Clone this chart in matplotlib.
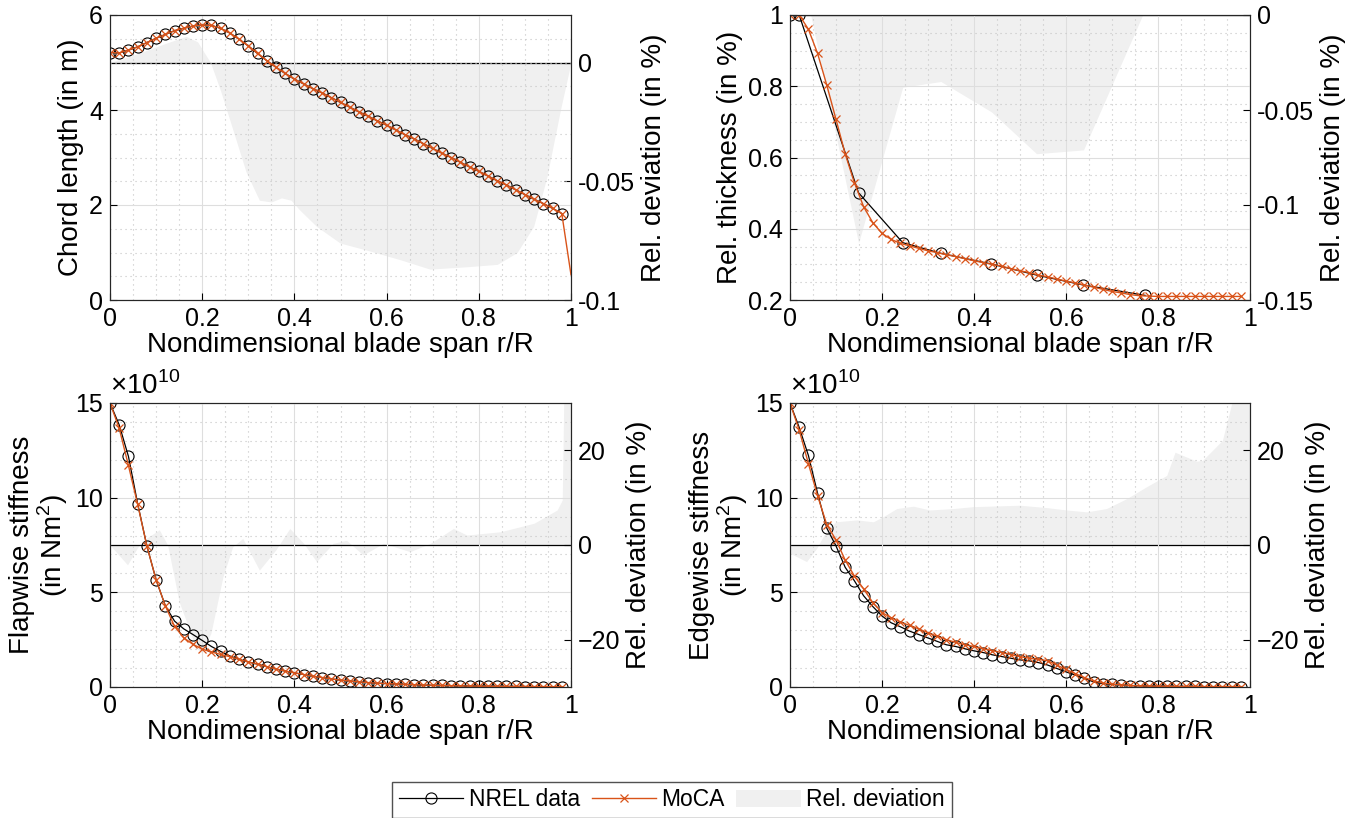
import numpy as np
import matplotlib
matplotlib.use('Agg')
import matplotlib.pyplot as plt
from matplotlib.lines import Line2D
from matplotlib.patches import Patch

plt.rcParams['font.family'] = ['Liberation Sans', 'DejaVu Sans']
plt.rcParams['font.size'] = 18
plt.rcParams['mathtext.fontset'] = 'custom'
plt.rcParams['mathtext.rm'] = 'Liberation Sans'

# --- Data ----------------------------------------------------
span = [0.00, 0.02, 0.04, 0.06, 0.08, 0.10, 0.12, 0.14, 0.16, 0.18,
        0.20, 0.22, 0.24, 0.26, 0.28, 0.30, 0.32, 0.34, 0.36, 0.38,
        0.40, 0.42, 0.44, 0.46, 0.48, 0.50, 0.52, 0.54, 0.56, 0.58,
        0.60, 0.62, 0.64, 0.66, 0.68, 0.70, 0.72, 0.74, 0.76, 0.78,
        0.80, 0.82, 0.84, 0.86, 0.88, 0.90, 0.92, 0.94, 0.96, 0.98]

# chord length (m)
chord_nrel = [5.21, 5.20, 5.26, 5.33, 5.42, 5.51, 5.59, 5.67, 5.72, 5.77,
              5.79, 5.78, 5.72, 5.62, 5.49, 5.35, 5.19, 5.04, 4.90, 4.77,
              4.65, 4.55, 4.45, 4.36, 4.26, 4.16, 4.06, 3.96, 3.87, 3.77,
              3.68, 3.58, 3.48, 3.39, 3.29, 3.19, 3.09, 3.00, 2.90, 2.80,
              2.71, 2.61, 2.51, 2.42, 2.32, 2.22, 2.12, 2.03, 1.93, 1.82]
chord_moca_x = span + [1.0]
chord_moca = chord_nrel + [0.53]
chord_dev_x = [0, 0.05, 0.12, 0.165, 0.19, 0.205, 0.218, 0.24, 0.266, 0.295,
               0.324, 0.35, 0.372, 0.393, 0.411, 0.448, 0.499, 0.557, 0.629,
               0.694, 0.774, 0.84, 0.883, 0.919, 0.948, 0.977, 1.0]
chord_dev = [0, 0.003, 0.008, 0.011, 0.0087, 0.004, 0, -0.012, -0.028, -0.046,
             -0.058, -0.0587, -0.057, -0.058, -0.062, -0.069, -0.076, -0.079,
             -0.083, -0.087, -0.086, -0.085, -0.080, -0.069, -0.048, -0.02, 0]

# relative thickness
thick_nrel_x = [0.0, 0.02, 0.149, 0.245, 0.328, 0.438, 0.536, 0.638, 0.772]
thick_nrel = [1.0, 1.0, 0.501, 0.361, 0.331, 0.301, 0.270, 0.242, 0.213]
thick_moca = [1.0, 1.0, 0.96, 0.892, 0.803, 0.707, 0.610, 0.529, 0.462, 0.417,
              0.387, 0.370, 0.359, 0.352, 0.345, 0.338, 0.333, 0.327, 0.322, 0.316,
              0.310, 0.305, 0.300, 0.295, 0.288, 0.282, 0.277, 0.270, 0.265, 0.259,
              0.253, 0.248, 0.242, 0.236, 0.230, 0.224, 0.220, 0.215, 0.212, 0.211,
              0.21, 0.21, 0.21, 0.21, 0.21, 0.21, 0.21, 0.21, 0.21, 0.21]
thick_dev_x = [0.0, 0.045, 0.149, 0.245, 0.328, 0.438, 0.536, 0.638, 0.772, 1.0]
thick_dev = [0, 0, -0.12, -0.038, -0.035, -0.051, -0.073, -0.071, 0.003, 0.003]

# flapwise stiffness (1e10 Nm^2)
flap_nrel = [15.0, 13.84, 12.18, 9.68, 7.45, 5.66, 4.29, 3.48, 3.07, 2.77,
             2.46, 2.14, 1.88, 1.64, 1.46, 1.32, 1.21, 1.07, 0.95, 0.84,
             0.75, 0.66, 0.57, 0.50, 0.43, 0.36, 0.32, 0.27, 0.23, 0.20,
             0.18, 0.16, 0.14, 0.12, 0.10, 0.09, 0.08, 0.07, 0.06, 0.05,
             0.045, 0.04, 0.035, 0.03, 0.03, 0.025, 0.02, 0.02, 0.015, 0.01]
flap_moca = [15.0, 13.66, 11.7, 9.65, 7.45, 5.66, 4.29, 3.2, 2.6, 2.25,
             2.0, 1.85, 1.72, 1.6, 1.46, 1.32, 1.21, 1.07, 0.95, 0.84,
             0.75, 0.66, 0.57, 0.50, 0.43, 0.36, 0.32, 0.27, 0.23, 0.20,
             0.18, 0.16, 0.14, 0.12, 0.10, 0.09, 0.08, 0.07, 0.06, 0.05,
             0.045, 0.04, 0.035, 0.03, 0.03, 0.025, 0.02, 0.02, 0.015, 0.01]
flap_dev_x = [0, 0.038, 0.06, 0.08, 0.107, 0.125, 0.15, 0.187, 0.2, 0.219,
              0.245, 0.266, 0.288, 0.324, 0.36, 0.39, 0.42, 0.448, 0.484, 0.513,
              0.549, 0.593, 0.651, 0.695, 0.745, 0.774, 0.847, 0.92, 0.97, 0.981,
              0.985, 1.0]
flap_dev = [0, -4.2, -0.5, 1.5, 3.2, 0, -12, -21.8, -22.8, -18.6,
            -6.7, -0.4, 1.4, -5.3, -1, 3.5, 0.35, -3.5, 0.35, 1,
            -2.1, 0.35, -1.4, 0.35, 3.5, 2.1, 2.8, 4.6, 7.4, 9.5,
            35, 35]

# edgewise stiffness (1e10 Nm^2)
edge_nrel = [15.0, 13.71, 12.23, 10.23, 8.39, 7.45, 6.32, 5.61, 4.82, 4.25,
             3.75, 3.39, 3.18, 2.95, 2.77, 2.59, 2.41, 2.23, 2.14, 2.02,
             1.91, 1.82, 1.70, 1.61, 1.52, 1.43, 1.38, 1.29, 1.16, 0.98,
             0.80, 0.63, 0.45, 0.27, 0.18, 0.14, 0.11, 0.07, 0.06, 0.05,
             0.04, 0.04, 0.03, 0.03, 0.03, 0.02, 0.02, 0.02, 0.02, 0.02]
edge_moca = [15.0, 13.57, 11.8, 10.1, 8.57, 7.77, 6.7, 5.86, 5.18, 4.46,
             3.93, 3.66, 3.43, 3.25, 3.07, 2.86, 2.68, 2.50, 2.36, 2.23,
             2.14, 2.02, 1.92, 1.82, 1.71, 1.60, 1.52, 1.46, 1.39, 1.16,
             0.93, 0.71, 0.50, 0.32, 0.21, 0.15, 0.11, 0.08, 0.06, 0.05,
             0.04, 0.04, 0.03, 0.03, 0.03, 0.02, 0.02, 0.02, 0.02, 0.02]
edge_dev_x = [0, 0.036, 0.058, 0.08, 0.1, 0.145, 0.181, 0.203, 0.232, 0.268,
              0.304, 0.355, 0.398, 0.5, 0.558, 0.601, 0.645, 0.688, 0.732, 0.775,
              0.819, 0.837, 0.884, 0.897, 0.94, 0.96, 0.98, 1.0]
edge_dev = [-1.75, -3.5, -0.7, 3.2, 4.9, 5.3, 4.9, 6, 7.7, 8.2,
            7.4, 7.7, 8.1, 8.4, 7.9, 7.4, 7.0, 7.7, 9.8, 12.3,
            14.7, 19.6, 17.7, 17.9, 22.1, 29.8, 40, 40]

# --- Style ---------------------------------------------------
ORANGE = "#D95319"
FILL = "#f0f0f0"
SPINE = "#262626"
LABEL_FS = 20
W, H = 1364, 818

fig = plt.figure(figsize=(W / 100, H / 100), dpi=100)


def make_panel(px_left, px_top, px_w, px_h):
    rect = [px_left / W, 1 - (px_top + px_h) / H, px_w / W, px_h / H]
    ax = fig.add_axes(rect)
    axr = ax.twinx()
    # deviation axis sits behind the data axis
    axr.set_zorder(ax.get_zorder() - 1)
    ax.patch.set_visible(False)
    for a in (ax, axr):
        for s in a.spines.values():
            s.set_color(SPINE)
            s.set_linewidth(0.8)
        a.tick_params(direction="in", length=5, width=0.8, colors="k",
                      labelsize=18, pad=5)
    ax.set_xlim(0, 1)
    ax.set_xticks([0, 0.2, 0.4, 0.6, 0.8, 1.0])
    ax.set_xticklabels(["0", "0.2", "0.4", "0.6", "0.8", "1"])
    ax.set_xticks(np.arange(0, 1.0001, 0.05), minor=True)
    ax.set_xlabel("Nondimensional blade span r/R", fontsize=LABEL_FS, labelpad=1)
    ax.tick_params(which="minor", length=0)
    ax.grid(which="major", color="#dedede", linewidth=0.8)
    ax.grid(which="minor", color="#c4c4c4", linewidth=0.8,
            linestyle=(0, (1, 3.5)))
    return ax, axr


def draw_series(ax, axr, x_nrel, y_nrel, x_moca, y_moca, dx, dy, moca_marks=None):
    axr.fill_between(dx, dy, 0, color=FILL, linewidth=0)
    axr.axhline(0, color="k", linewidth=0.9)
    ax.plot(x_nrel, y_nrel, color="k", linewidth=0.9, marker="o",
            markersize=8, markerfacecolor="none", markeredgewidth=0.8)
    ax.plot(x_moca, y_moca, color=ORANGE, linewidth=1.0, marker="x",
            markersize=6, markeredgewidth=0.9, markevery=moca_marks)


# --- Panel 1 : chord ----------------------------------------
ax1, ax1r = make_panel(110, 15, 461, 285)
draw_series(ax1, ax1r, span, chord_nrel, chord_moca_x, chord_moca,
            chord_dev_x, chord_dev, moca_marks=list(range(len(span))))
ax1.set_ylim(0, 6)
ax1.set_yticks([0, 2, 4, 6])
ax1.set_yticks(np.arange(0, 6.01, 0.5), minor=True)
ax1r.set_ylim(-0.1, 0.02)
ax1r.set_yticks([-0.1, -0.05, 0])
ax1r.set_yticklabels(["-0.1", "-0.05", "0"])
ax1.set_ylabel("Chord length (in m)", fontsize=LABEL_FS)
ax1r.set_ylabel("Rel. deviation (in %)", fontsize=LABEL_FS)

# --- Panel 2 : thickness -------------------------------------
ax2, ax2r = make_panel(790, 15, 460, 285)
draw_series(ax2, ax2r, thick_nrel_x, thick_nrel, span, thick_moca,
            thick_dev_x, thick_dev)
ax2.set_ylim(0.2, 1)
ax2.set_yticks([0.2, 0.4, 0.6, 0.8, 1.0])
ax2.set_yticklabels(["0.2", "0.4", "0.6", "0.8", "1"])
ax2.set_yticks(np.arange(0.2, 1.001, 0.05), minor=True)
ax2r.set_ylim(-0.15, 0)
ax2r.set_yticks([-0.15, -0.1, -0.05, 0])
ax2r.set_yticklabels(["-0.15", "-0.1", "-0.05", "0"])
ax2.set_ylabel("Rel. thickness (in %)", fontsize=LABEL_FS)
ax2r.set_ylabel("Rel. deviation (in %)", fontsize=LABEL_FS)

# --- Panel 3 : flapwise stiffness ----------------------------
ax3, ax3r = make_panel(110, 403, 461, 284)
draw_series(ax3, ax3r, span, flap_nrel, span, flap_moca,
            flap_dev_x, flap_dev)
ax3.set_ylim(0, 15)
ax3.set_yticks([0, 5, 10, 15])
ax3.set_yticks(np.arange(0, 15.01, 1), minor=True)
ax3r.set_ylim(-30, 30)
ax3r.set_yticks([-20, 0, 20])
ax3.set_ylabel("Flapwise stiffness\n(in Nm$^2$)", fontsize=LABEL_FS,
               linespacing=1.0)
ax3r.set_ylabel("Rel. deviation (in %)", fontsize=LABEL_FS)
ax3.text(0.0, 1.01, r"$\times10^{10}$", transform=ax3.transAxes,
         fontsize=LABEL_FS, ha="left", va="bottom")

# --- Panel 4 : edgewise stiffness ----------------------------
ax4, ax4r = make_panel(790, 403, 460, 284)
draw_series(ax4, ax4r, span, edge_nrel, span, edge_moca,
            edge_dev_x, edge_dev)
ax4.set_ylim(0, 15)
ax4.set_yticks([0, 5, 10, 15])
ax4.set_yticks(np.arange(0, 15.01, 1), minor=True)
ax4r.set_ylim(-30, 30)
ax4r.set_yticks([-20, 0, 20])
ax4.set_ylabel("Edgewise stiffness\n(in Nm$^2$)", fontsize=LABEL_FS,
               linespacing=1.0)
ax4r.set_ylabel("Rel. deviation (in %)", fontsize=LABEL_FS)
ax4.text(0.0, 1.01, r"$\times10^{10}$", transform=ax4.transAxes,
         fontsize=LABEL_FS, ha="left", va="bottom")

# --- Legend --------------------------------------------------
handles = [
    Line2D([], [], color="k", linewidth=0.9, marker="o", markersize=8,
           markerfacecolor="none", markeredgewidth=0.8),
    Line2D([], [], color=ORANGE, linewidth=1.0, marker="x", markersize=6,
           markeredgewidth=0.9),
    Patch(facecolor=FILL, edgecolor="none"),
]
fig.legend(handles, ["NREL data", "MoCA", "Rel. deviation"], ncol=3,
           loc="center", bbox_to_anchor=(672 / W, 1 - 800 / H),
           frameon=True, fancybox=False, edgecolor=SPINE, fontsize=16.5,
           handlelength=2.8, columnspacing=0.5, handletextpad=0.25,
           borderpad=0.3, borderaxespad=0)

plt.savefig("out.png", dpi=100)
